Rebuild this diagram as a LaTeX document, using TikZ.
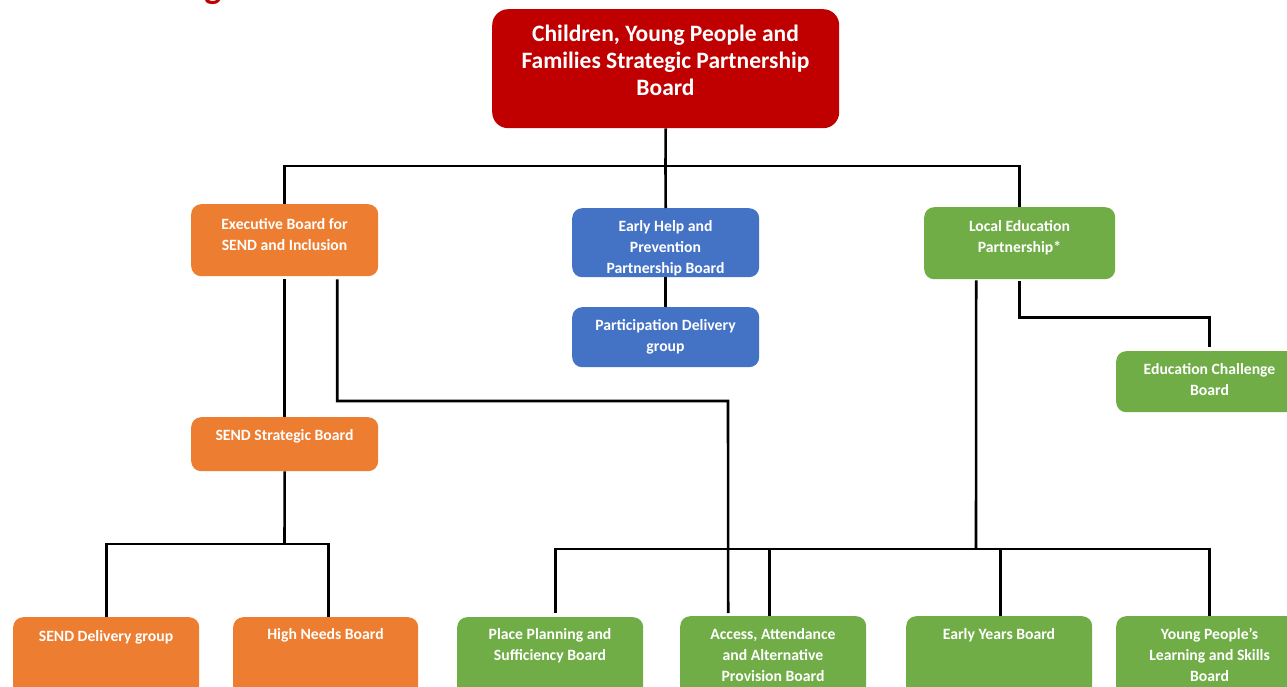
\documentclass[tikz,border=0pt]{standalone}
\usepackage{fontspec}
\setmainfont{Carlito}
\definecolor{cred}{HTML}{C00000}
\definecolor{corange}{HTML}{ED7D31}
\definecolor{cblue}{HTML}{4472C4}
\definecolor{cgreen}{HTML}{70AD47}
\newcommand{\T}{\rule{0pt}{12pt}}
\newcommand{\TT}{\rule{0pt}{17pt}}
\begin{document}
\begin{tikzpicture}[x=1pt,y=-1pt,
  box/.style={rounded corners=10pt, inner sep=0pt, anchor=north west, draw=none},
  txt/.style={text=white, font=\bfseries\fontsize{15.7}{21}\selectfont, align=center, inner sep=0pt, anchor=north},
  ttxt/.style={text=white, font=\bfseries\fontsize{23.5}{27}\selectfont, align=center, inner sep=0pt, anchor=north},
  conn/.style={draw=black, line width=2.6pt}]
\useasboundingbox (0,0) rectangle (1287,687);
\clip (0,0) rectangle (1287,687);
\fill[white] (0,0) rectangle (1287,687);

\node[anchor=base, text=cred, font=\bfseries\fontsize{36}{40}\selectfont, inner sep=0pt] (ttl) at (213,-1) {g};

% boxes
\node[box, fill=cred, rounded corners=16pt, minimum width=347pt, minimum height=119pt] (top) at (492,9) {};
\node[ttxt] (topt) at (665.5,24) {\TT Children, Young People and\\Families Strategic Partnership\\Board};

\node[box, fill=corange, minimum width=187pt, minimum height=72pt] (exec) at (191,204) {};
\node[txt] (exect) at (284.5,217) {\T Executive Board for\\SEND and Inclusion};

\node[box, fill=cblue, minimum width=187pt, minimum height=69pt] (early) at (572,208) {};
\node[txt] (earlyt) at (665.5,219) {\T Early Help and\\Prevention\\Partnership Board};

\node[box, fill=cblue, minimum width=187pt, minimum height=60pt] (part) at (572,307) {};
\node[txt] (partt) at (665.5,318) {\T Participation Delivery\\group};

\node[box, fill=cgreen, minimum width=191pt, minimum height=72pt] (local) at (924,207) {};
\node[txt] (localt) at (1019.5,219) {\T Local Education\\Partnership*};

\node[box, fill=cgreen, minimum width=187pt, minimum height=61pt] (educ) at (1116,351) {};
\node[txt] (educt) at (1209.5,362) {\T Education Challenge\\Board};

\node[box, fill=corange, minimum width=187pt, minimum height=54pt] (sstrat) at (191,417) {};
\node[txt] (sstratt) at (284.5,428) {\T SEND Strategic Board};

\node[box, fill=corange, minimum width=186pt, minimum height=90pt] (sdel) at (13,617) {};
\node[txt] (sdelt) at (106,629) {\T SEND Delivery group};

\node[box, fill=corange, minimum width=185pt, minimum height=90pt] (high) at (233,617) {};
\node[txt] (hight) at (325.5,627) {\T High Needs Board};

\node[box, fill=cgreen, minimum width=186pt, minimum height=90pt] (place) at (457,617) {};
\node[txt] (placet) at (550,627) {\T Place Planning and\\Sufficiency Board};

\node[box, fill=cgreen, minimum width=186pt, minimum height=90pt] (access) at (680,616) {};
\node[txt] (accesst) at (773,627) {\T Access, Attendance\\and Alternative\\Provision Board};

\node[box, fill=cgreen, minimum width=186pt, minimum height=90pt] (eyears) at (906,616) {};
\node[txt] (eyearst) at (999,627) {\T Early Years Board};

\node[box, fill=cgreen, minimum width=187pt, minimum height=90pt] (young) at (1116,616) {};
\node[txt] (youngt) at (1209.5,627) {\T Young People’s\\Learning and Skills\\Board};

% connectors
\coordinate (bus1) at (665.5,166);
\coordinate (bus2) at (976,549);
\coordinate (bus3) at (284.5,544);
\coordinate (jog) at (728,401);

\draw[conn] (top.south) -- (bus1);
\draw[conn] (exec.north) |- (bus1) -| (local.north);
\draw[conn] (bus1) -- (early.north);
\draw[conn] (early.south) -- (part.north);

\draw[conn] ([yshift=-3pt]exec.south) -- (sstrat.north);
\draw[conn] ([xshift=52.5pt,yshift=-3pt]exec.south) |- (jog) -- ([xshift=-45pt,yshift=3pt]access.north);

\draw[conn] (sstrat.south) -- (bus3);
\draw[conn] (sdel.north) |- (bus3) -| ([xshift=2.5pt]high.north);

\draw[conn] ([xshift=-43.5pt,yshift=-1pt]local.south) -- (bus2);
\draw[conn] ([xshift=5pt,yshift=4pt]place.north) |- (bus2) -| (young.north);
\draw[conn] ([xshift=-4pt]access.north) -- ([xshift=-4pt]access.north |- bus2);
\draw[conn] ([xshift=1pt]eyears.north) -- ([xshift=1pt]eyears.north |- bus2);

\draw[conn] ([yshift=-2pt]local.south) -- ++(0,36) -| ([yshift=4pt]educ.north);
\end{tikzpicture}
\end{document}
